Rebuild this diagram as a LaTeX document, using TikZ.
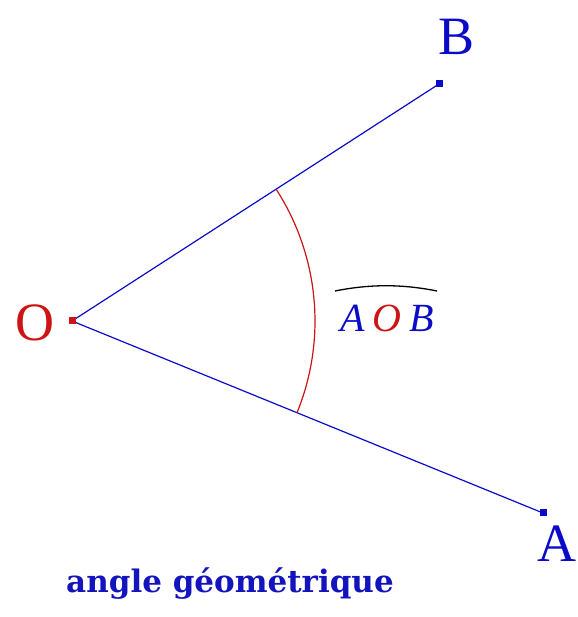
\documentclass[tikz,border=0pt]{standalone}
\usepackage{fontspec}
\setmainfont{Liberation Serif}
\newfontfamily\titlefont{DejaVu Serif}
\definecolor{myblue}{RGB}{10,10,200}
\definecolor{myred}{RGB}{205,20,20}
\definecolor{titleblue}{RGB}{20,20,190}
\tikzset{
  seg/.style={myblue, line width=1.2pt},
  pt/.style={rectangle, fill=#1, inner sep=0pt, minimum size=7pt},
  biglabel/.style={font=\fontsize{54}{54}\selectfont, inner sep=0pt},
}
\begin{document}
\begin{tikzpicture}[x=1pt,y=1pt]
\useasboundingbox (0,0) rectangle (577,617);
\coordinate (O) at (72,296);
\coordinate (B) at (439,533);
\coordinate (A) at (543,104);
\draw[seg] (O) -- (B);
\draw[seg] (O) -- (A);
\node[pt=myred] (Op) at (O) {};
\node[pt=myblue] (Bp) at (B) {};
\node[pt=myblue] (Ap) at (A) {};
\draw[myred, line width=1.2pt] (O) ++(-22.18:243) arc[start angle=-22.18, end angle=32.86, radius=243];
\node[biglabel, text=myred] (Ol) at (35,294) {O};
\node[biglabel, text=myblue] (Bl) at (456,580) {B};
\node[biglabel, text=myblue] (Al) at (557,73) {A};
\node[inner sep=0pt, font=\fontsize{40}{40}\selectfont\itshape] (ang) at (387,299)
  {\textcolor{myblue}{A}\hspace{8pt}\textcolor{myred}{O}\hspace{8pt}\textcolor{myblue}{B}};
\draw[black, line width=1.3pt] (335,326) .. controls (370,333) and (402,333) .. (437,326);
\node[anchor=base, inner sep=0pt, text=titleblue, font=\titlefont\fontsize{31}{31}\selectfont\bfseries] (title) at (230,24) {angle géométrique};
\end{tikzpicture}
\end{document}
